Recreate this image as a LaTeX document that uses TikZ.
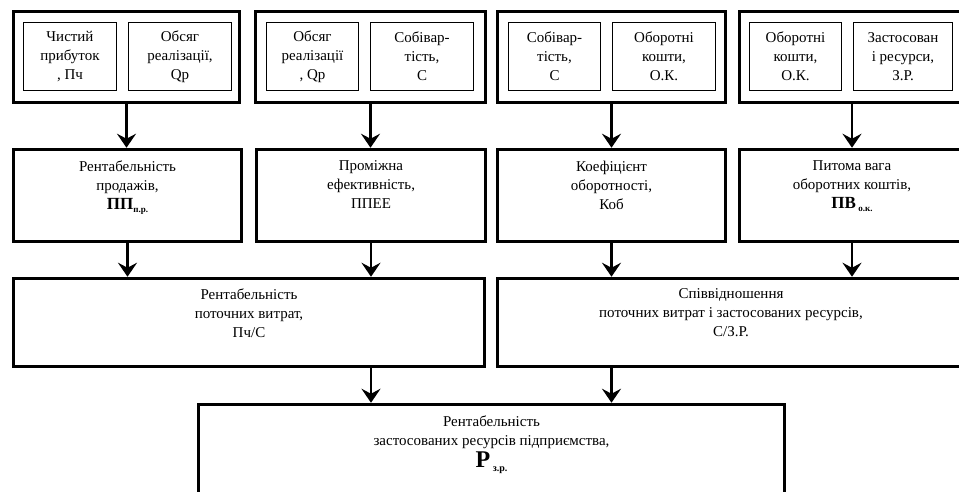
\documentclass[tikz,border=0pt]{standalone}
\usepackage{fontspec}
\setmainfont{Liberation Serif}
\usetikzlibrary{arrows.meta,positioning}

\begin{document}
\begin{tikzpicture}[x=1pt,y=-1pt,
    outer/.style={draw,line width=3.5pt,minimum height=91pt,inner sep=0pt},
    inner/.style={draw,line width=1.2pt,minimum height=68pt,inner sep=0pt,align=center,font=\fontsize{15}{19}\selectfont},
    box/.style={draw,line width=3.5pt,inner sep=0pt},
    txt/.style={align=center,inner sep=0pt,font=\fontsize{15}{19}\selectfont},
    arr/.style={line width=2.6pt,-{Stealth[length=14pt,width=19pt,inset=5pt]}}]
  \useasboundingbox (0,0) rectangle (959,492);

  % top row
  \node[outer,minimum width=226pt] (t1) at (126.5,57) {};
  \node[outer,minimum width=230pt] (t2) at (370.5,57) {};
  \node[outer,minimum width=228pt] (t3) at (611.5,57) {};
  \node[outer,minimum width=225pt] (t4) at (852,57) {};

  \node[inner,minimum width=93pt] (t1a) at (70,56.5) {Чистий\\прибуток\\, Пч};
  \node[inner,minimum width=103pt] (t1b) at (180,56.5) {Обсяг\\реалізації,\\Qp};
  \node[inner,minimum width=92pt] (t2a) at (312.5,56.5) {Обсяг\\реалізації\\, Qp};
  \node[inner,minimum width=103pt] (t2b) at (422,56.5) {Собівар-\\тість,\\С};
  \node[inner,minimum width=92pt] (t3a) at (554.5,56.5) {Собівар-\\тість,\\С};
  \node[inner,minimum width=103pt] (t3b) at (664,56.5) {Оборотні\\кошти,\\О.К.};
  \node[inner,minimum width=92pt] (t4a) at (795.5,56.5) {Оборотні\\кошти,\\О.К.};
  \node[inner,minimum width=99pt] (t4b) at (903,56.5) {Застосован\\і ресурси,\\З.Р.};

  % second row
  \node[box,minimum width=228pt,minimum height=92pt] (m1) at (127.5,195.5) {};
  \node[box,minimum width=229pt,minimum height=92pt] (m2) at (371,195.5) {};
  \node[box,minimum width=228pt,minimum height=92pt] (m3) at (611.5,195.5) {};
  \node[box,minimum width=225pt,minimum height=92pt] (m4) at (852,195.5) {};

  \node[txt,below=13pt of m1.north] (m1t) {Рентабельність\\продажів,\\{\fontsize{17}{19}\selectfont\bfseries ПП}\raisebox{-3pt}{\fontsize{9}{9}\selectfont\bfseries п.р.}};
  \node[txt,below=13pt of m2.north] (m2t) {Проміжна\\ефективність,\\ППЕЕ};
  \node[txt,below=13pt of m3.north] (m3t) {Коефіцієнт\\оборотності,\\Коб};
  \node[txt,below=13pt of m4.north] (m4t) {Питома вага\\оборотних коштів,\\{\fontsize{17}{19}\selectfont\bfseries ПВ}\,\raisebox{-3pt}{\fontsize{9}{9}\selectfont\bfseries о.к.}};

  % third row
  \node[box,minimum width=471pt,minimum height=88pt] (b1) at (249,322.5) {};
  \node[box,minimum width=467pt,minimum height=88pt] (b2) at (731,322.5) {};

  \node[txt,below=12pt of b1.north] (b1t) {Рентабельність\\поточних витрат,\\Пч/С};
  \node[txt,below=12pt of b2.north] (b2t) {Співвідношення\\поточних витрат і застосованих ресурсів,\\С/З.Р.};

  % bottom
  \node[box,minimum width=586pt,minimum height=134pt] (f) at (491.5,471.5) {};
  \node[txt,below=13pt of f.north] (ft) {Рентабельність\\застосованих ресурсів підприємства,\\[3pt]{\fontsize{24}{24}\selectfont\bfseries Р}\,\raisebox{-4pt}{\fontsize{10}{10}\selectfont\bfseries з.р.}};

  % arrows
  \draw[arr] (t1.south) -- (t1.south |- m1.north);
  \draw[arr] (t2.south) -- (t2.south |- m2.north);
  \draw[arr] (t3.south) -- (t3.south |- m3.north);
  \draw[arr] (t4.south) -- (t4.south |- m4.north);

  \draw[arr] (m1.south) -- (m1.south |- b1.north);
  \draw[arr] (m2.south) -- (m2.south |- b1.north);
  \draw[arr] (m3.south) -- (m3.south |- b2.north);
  \draw[arr] (m4.south) -- (m4.south |- b2.north);

  \draw[arr] (b1.south -| m2.south) -- (m2.south |- f.north);
  \draw[arr] (b2.south -| m3.south) -- (m3.south |- f.north);
\end{tikzpicture}
\end{document}
